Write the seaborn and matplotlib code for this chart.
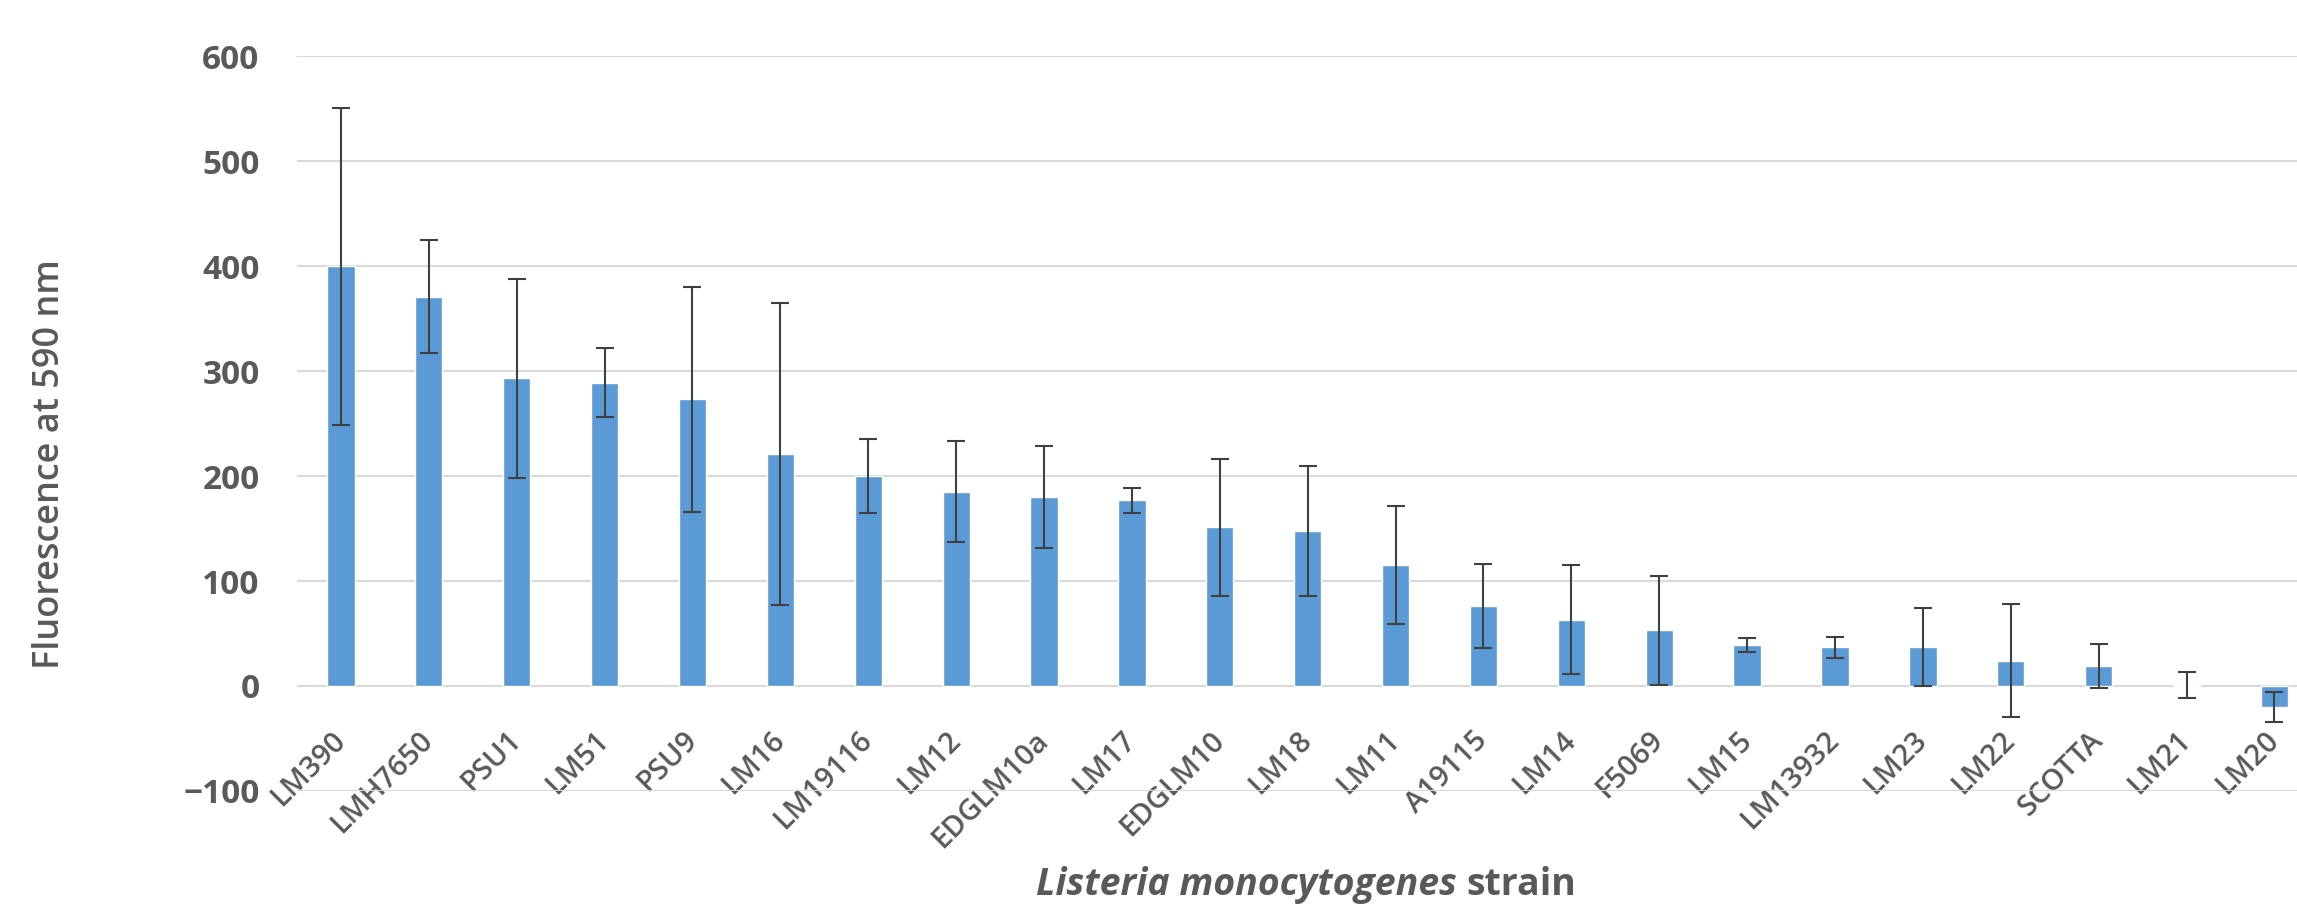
import matplotlib
matplotlib.use("Agg")
import matplotlib.pyplot as plt
import seaborn as sns
import pandas as pd
import numpy as np

# Strains and mean fluorescence with error
strains = ['LM390', 'LMH7650', 'PSU1', 'LM51', 'PSU9', 'LM16', 'LM19116', 'LM12',
           'EDGLM10a', 'LM17', 'EDGLM10', 'LM18', 'LM11', 'A19115', 'LM14', 'F5069',
           'LM15', 'LM13932', 'LM23', 'LM22', 'SCOTTA', 'LM21', 'LM20']
fluorescence = [400, 371, 293, 289, 273, 221, 200, 185, 180, 177, 151, 148, 115,
                76, 63, 53, 39, 37, 37, 24, 19, 1, -20]
errors = [151, 54, 95, 33, 107, 144, 35, 48, 49, 12, 65, 62, 56,
          40, 52, 52, 7, 10, 37, 54, 21, 12, 14]
y_ticks = [-100, 0, 100, 200, 300, 400, 500, 600]

df = pd.DataFrame({'strain': strains, 'value': fluorescence, 'err': errors})

sns.set_style('white')
plt.rcParams['font.family'] = ['Open Sans', 'DejaVu Sans']

fig = plt.figure(figsize=(22.97, 9.05), dpi=100)
# plot area runs a little past the right edge, as in the original
ax = fig.add_axes([0.1293, 0.126, 0.8800, 0.812])

sns.barplot(data=df, x='strain', y='value', color='#5B9BD5', saturation=1,
            width=0.31, ax=ax, errorbar=None, zorder=2)
ax.errorbar(np.arange(len(strains)), df['value'], yerr=df['err'], fmt='none',
            ecolor='#404040', elinewidth=1.5, capsize=6.5, capthick=1.5, zorder=3)

ax.set_ylim(-100, 600)
ax.set_xlim(-0.5, len(strains) - 0.5)
ax.set_yticks(y_ticks)
ax.yaxis.grid(True, color='#d9d9d9', linewidth=1.5, zorder=0)
ax.set_axisbelow(True)

for s in ['top', 'right', 'left']:
    ax.spines[s].set_visible(False)
# category labels sit at the zero line
ax.spines['bottom'].set_position(('data', 0))
ax.spines['bottom'].set_color('none')

ax.tick_params(axis='y', length=0, pad=27, labelsize=24, labelcolor='#595959')
ax.tick_params(axis='x', length=0, pad=36, labelsize=21, labelcolor='#595959')
for lab in ax.get_yticklabels():
    lab.set_fontweight('bold')
plt.setp(ax.get_xticklabels(), rotation=45, ha='right', va='center',
         rotation_mode='anchor', fontweight='semibold')

ax.set_xlabel('')
ax.set_ylabel('')

fig.text(50 / 2297, 1 - 464 / 905, 'Fluorescence at 590 nm', rotation=90,
         ha='center', va='center', fontsize=26, color='#595959', fontweight='semibold')

# x axis title: italic species name followed by "strain"
fig.canvas.draw()
r = fig.canvas.get_renderer()
t1 = fig.text(0, 0.022, 'Listeria monocytogenes ', fontsize=27, color='#595959',
              fontweight='bold', style='italic', ha='left', va='center')
t2 = fig.text(0, 0.022, 'strain', fontsize=27, color='#595959',
              fontweight='bold', ha='left', va='center')
w1 = t1.get_window_extent(r).width
w2 = t2.get_window_extent(r).width
x0 = 1306 - (w1 + w2) / 2
t1.set_x(x0 / 2297)
t2.set_x((x0 + w1) / 2297)

fig.savefig('out.png', dpi=100, facecolor='white')
